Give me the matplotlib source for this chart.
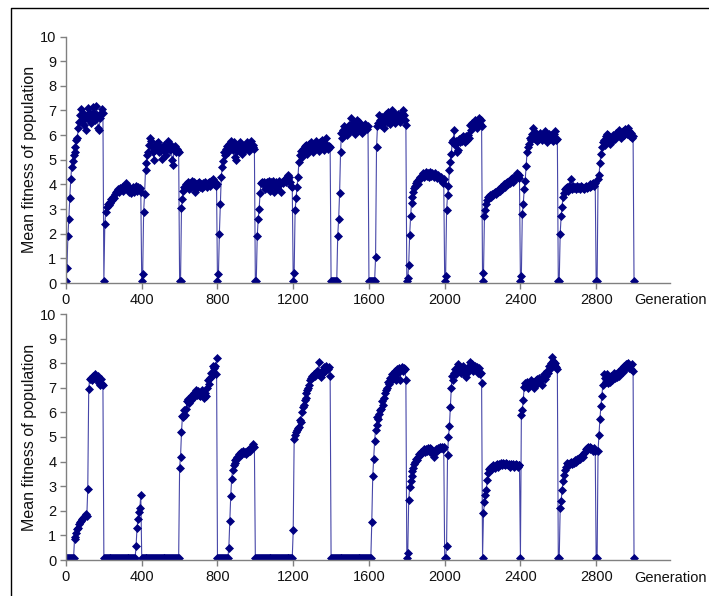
import matplotlib
matplotlib.use('Agg')
import matplotlib.pyplot as plt
from matplotlib.lines import Line2D
import numpy as np

plt.rcParams['font.family'] = ['Liberation Sans', 'DejaVu Sans']

# generation sampled every 5 steps, 0..3000
generation = np.arange(0, 3001, 5)

# mean fitness, upper run (one line per 200-generation epoch)
fitness_top = [
    0.1, 0.6, 1.9, 2.6, 3.45, 4.2, 4.7, 4.95, 5.2, 5.5, 5.3, 5.8, 5.9, 6.3, 6.55, 6.8, 7.05, 6.6, 6.9, 6.4, 6.7, 6.2, 6.8, 7.1, 6.6, 6.9, 6.5, 6.8, 7.15, 6.7, 6.9, 6.6, 7.2, 6.8, 6.3, 6.2, 6.7, 6.9, 7.05, 6.9,
    0.1, 2.4, 2.9, 3.1, 3.2, 3.15, 3.3, 3.25, 3.4, 3.35, 3.5, 3.45, 3.6, 3.7, 3.75, 3.8, 3.7, 3.85, 3.8, 3.9, 3.75, 3.95, 3.85, 4.05, 3.9, 3.8, 3.95, 3.7, 3.85, 3.65, 3.8, 3.9, 3.7, 3.85, 3.95, 3.75, 3.9, 3.8, 3.85, 3.7,
    0.1, 0.35, 2.9, 3.6, 4.6, 4.85, 5.2, 5.3, 5.6, 5.9, 5.75, 5.5, 5.3, 5.0, 5.4, 5.65, 5.5, 5.7, 5.3, 5.5, 5.4, 5.05, 5.45, 5.6, 5.35, 5.5, 5.2, 5.45, 5.75, 5.55, 5.4, 5.6, 5.0, 4.8, 5.4, 5.55, 5.3, 5.45, 5.35, 5.3,
    0.1, 0.1, 3.05, 3.4, 3.75, 3.9, 3.85, 4.0, 3.95, 4.1, 3.8, 4.05, 3.9, 4.15, 3.95, 4.1, 3.7, 4.0, 3.85, 4.05, 3.95, 4.1, 3.9, 4.0, 3.85, 4.05, 3.95, 4.1, 4.0, 3.9, 4.05, 4.1, 3.95, 4.15, 4.05, 4.2, 4.0, 4.1, 3.95, 4.0,
    0.1, 0.35, 2.0, 3.2, 4.3, 4.7, 4.95, 5.3, 5.2, 5.45, 5.55, 5.3, 5.65, 5.5, 5.75, 5.6, 5.4, 5.7, 5.55, 5.1, 5.0, 5.35, 5.6, 5.45, 5.7, 5.5, 5.25, 5.55, 5.4, 5.6, 5.45, 5.7, 5.5, 5.35, 5.6, 5.75, 5.55, 5.5, 5.6, 5.45,
    0.1, 0.1, 1.9, 2.6, 3.0, 3.65, 4.05, 4.1, 4.0, 4.1, 3.8, 4.05, 4.1, 3.9, 4.15, 4.05, 3.75, 4.1, 3.95, 4.15, 3.7, 4.0, 4.1, 3.85, 4.05, 4.15, 4.0, 3.7, 4.1, 4.05, 4.15, 4.2, 4.1, 4.3, 4.4, 4.2, 4.3, 4.1, 3.95, 3.9,
    0.1, 0.42, 2.95, 3.45, 3.9, 4.3, 4.9, 5.2, 5.35, 5.1, 5.45, 5.3, 5.55, 5.4, 5.6, 5.25, 5.5, 5.65, 5.4, 5.7, 5.55, 5.3, 5.6, 5.45, 5.75, 5.5, 5.6, 5.35, 5.7, 5.5, 5.8, 5.55, 5.4, 5.65, 5.5, 5.9, 5.6, 5.45, 5.55, 5.5,
    0.1, 0.1, 0.1, 0.1, 0.1, 0.1, 0.1, 1.9, 2.6, 3.65, 5.3, 6.1, 5.9, 6.2, 6.35, 6.1, 6.3, 6.0, 6.25, 6.4, 6.15, 6.7, 6.3, 6.5, 6.2, 6.05, 6.35, 6.6, 6.4, 6.55, 6.2, 6.45, 6.3, 6.1, 6.35, 6.2, 6.45, 6.3, 6.25, 6.35,
    0.1, 0.1, 0.1, 0.1, 0.1, 0.1, 0.1, 1.05, 5.5, 6.35, 6.5, 6.8, 6.6, 6.4, 6.75, 6.5, 6.3, 6.6, 6.85, 6.55, 6.95, 6.7, 6.45, 6.8, 7.0, 6.65, 6.9, 6.75, 6.5, 6.8, 6.6, 6.85, 6.7, 6.55, 6.75, 6.9, 7.0, 6.8, 6.6, 6.4,
    0.1, 0.2, 0.75, 1.95, 2.7, 3.25, 3.5, 3.7, 3.85, 3.95, 4.05, 4.15, 4.0, 4.2, 4.3, 4.25, 4.35, 4.45, 4.3, 4.4, 4.5, 4.35, 4.45, 4.3, 4.4, 4.5, 4.35, 4.45, 4.4, 4.3, 4.45, 4.35, 4.25, 4.4, 4.3, 4.2, 4.3, 4.15, 4.05, 4.2,
    0.1, 0.3, 2.95, 3.55, 3.95, 4.6, 4.9, 5.25, 5.7, 5.8, 6.2, 5.6, 5.75, 5.3, 5.4, 5.85, 5.7, 5.9, 5.75, 5.95, 5.8, 5.7, 5.95, 5.85, 5.8, 6.0, 5.9, 6.4, 6.2, 6.5, 6.35, 6.45, 6.6, 6.5, 6.3, 6.55, 6.7, 6.45, 6.6, 6.35,
    0.1, 0.4, 2.7, 2.95, 3.2, 3.35, 3.5, 3.45, 3.55, 3.5, 3.6, 3.55, 3.65, 3.7, 3.6, 3.75, 3.7, 3.8, 3.75, 3.85, 3.9, 3.8, 3.95, 4.0, 3.9, 4.05, 4.1, 4.0, 4.15, 4.05, 4.2, 4.25, 4.1, 4.3, 4.2, 4.35, 4.45, 4.3, 4.4, 4.25,
    0.1, 0.3, 2.8, 3.2, 3.8, 4.15, 4.75, 5.3, 5.5, 5.65, 5.9, 5.8, 6.05, 6.3, 6.0, 5.85, 6.1, 5.9, 5.75, 6.0, 5.85, 6.1, 5.95, 5.8, 6.0, 5.9, 6.15, 5.95, 5.7, 5.9, 6.05, 5.85, 6.0, 5.9, 5.75, 6.05, 6.15, 5.9, 5.8, 5.85,
    0.1, 0.1, 2.0, 2.7, 3.1, 3.5, 3.65, 3.8, 3.85, 3.9, 3.75, 3.95, 3.85, 4.2, 3.9, 3.8, 3.95, 3.85, 3.9, 3.8, 3.95, 3.85, 3.9, 3.8, 3.95, 3.9, 3.85, 3.8, 3.9, 3.95, 3.85, 3.9, 3.95, 3.9, 4.0, 3.95, 4.0, 4.05, 3.95, 4.05,
    0.1, 0.1, 4.2, 4.4, 4.85, 5.25, 5.5, 5.7, 5.8, 5.6, 5.95, 6.05, 5.85, 6.0, 5.8, 5.65, 5.9, 5.75, 6.0, 5.9, 5.85, 6.1, 5.95, 6.0, 6.2, 6.05, 5.9, 6.1, 6.15, 6.0, 6.25, 6.1, 6.2, 6.05, 6.3, 6.15, 5.95, 6.1, 5.9, 5.95,
    0.1,
]

# mean fitness, lower run
fitness_bottom = [
    0.1, 0.1, 0.1, 0.1, 0.1, 0.1, 0.1, 0.1, 0.1, 0.85, 0.95, 1.1, 1.25, 1.3, 1.45, 1.55, 1.6, 1.65, 1.7, 1.75, 1.8, 1.85, 1.8, 2.9, 6.95, 7.35, 7.4, 7.3, 7.45, 7.5, 7.4, 7.55, 7.45, 7.3, 7.5, 7.2, 7.1, 7.35, 7.15, 7.1,
    0.1, 0.1, 0.1, 0.1, 0.1, 0.1, 0.1, 0.1, 0.1, 0.1, 0.1, 0.1, 0.1, 0.1, 0.1, 0.1, 0.1, 0.1, 0.1, 0.1, 0.1, 0.1, 0.1, 0.1, 0.1, 0.1, 0.1, 0.1, 0.1, 0.1, 0.1, 0.1, 0.1, 0.1, 0.55, 1.3, 1.65, 1.95, 2.1, 2.65,
    0.1, 0.1, 0.1, 0.1, 0.1, 0.1, 0.1, 0.1, 0.1, 0.1, 0.1, 0.1, 0.1, 0.1, 0.1, 0.1, 0.1, 0.1, 0.1, 0.1, 0.1, 0.1, 0.1, 0.1, 0.1, 0.1, 0.1, 0.1, 0.1, 0.1, 0.1, 0.1, 0.1, 0.1, 0.1, 0.1, 0.1, 0.1, 0.1, 0.1,
    3.75, 4.2, 5.2, 5.85, 5.8, 6.1, 5.9, 6.15, 6.45, 6.55, 6.4, 6.6, 6.5, 6.7, 6.6, 6.8, 6.75, 6.9, 6.7, 6.85, 6.7, 6.8, 6.65, 6.75, 6.9, 6.7, 6.6, 6.8, 6.65, 7.0, 7.3, 7.15, 7.4, 7.6, 7.5, 7.9, 7.8, 7.9, 7.55, 8.2,
    0.1, 0.1, 0.1, 0.1, 0.1, 0.1, 0.1, 0.1, 0.1, 0.1, 0.1, 0.1, 0.5, 1.6, 2.6, 3.3, 3.65, 3.85, 3.95, 4.05, 4.1, 4.2, 4.15, 4.3, 4.25, 4.4, 4.3, 4.45, 4.35, 4.4, 4.3, 4.45, 4.4, 4.5, 4.45, 4.55, 4.6, 4.7, 4.65, 4.6,
    0.1, 0.1, 0.1, 0.1, 0.1, 0.1, 0.1, 0.1, 0.1, 0.1, 0.1, 0.1, 0.1, 0.1, 0.1, 0.1, 0.1, 0.1, 0.1, 0.1, 0.1, 0.1, 0.1, 0.1, 0.1, 0.1, 0.1, 0.1, 0.1, 0.1, 0.1, 0.1, 0.1, 0.1, 0.1, 0.1, 0.1, 0.1, 0.1, 0.1,
    1.2, 4.9, 5.1, 5.2, 5.3, 5.35, 5.4, 5.7, 5.6, 6.0, 6.2, 6.3, 6.5, 6.6, 6.8, 6.9, 7.0, 7.1, 7.3, 7.4, 7.5, 7.45, 7.55, 7.5, 7.6, 7.7, 7.55, 8.05, 7.6, 7.45, 7.7, 7.6, 7.75, 7.85, 7.7, 7.9, 7.8, 7.75, 7.85, 7.5,
    0.1, 0.1, 0.1, 0.1, 0.1, 0.1, 0.1, 0.1, 0.1, 0.1, 0.1, 0.1, 0.1, 0.1, 0.1, 0.1, 0.1, 0.1, 0.1, 0.1, 0.1, 0.1, 0.1, 0.1, 0.1, 0.1, 0.1, 0.1, 0.1, 0.1, 0.1, 0.1, 0.1, 0.1, 0.1, 0.1, 0.1, 0.1, 0.1, 0.1,
    0.1, 0.1, 0.1, 1.55, 3.4, 4.1, 4.85, 5.3, 5.5, 5.8, 5.75, 5.95, 6.1, 6.15, 6.45, 6.3, 6.6, 6.8, 6.9, 7.0, 7.25, 7.15, 7.4, 7.3, 7.55, 7.35, 7.6, 7.45, 7.7, 7.3, 7.75, 7.6, 7.8, 7.3, 7.75, 7.85, 7.7, 7.8, 7.75, 7.3,
    0.1, 0.3, 2.45, 2.95, 3.2, 3.4, 3.6, 3.75, 3.9, 4.0, 4.1, 4.05, 4.2, 4.3, 4.25, 4.4, 4.35, 4.45, 4.5, 4.4, 4.5, 4.45, 4.55, 4.5, 4.4, 4.55, 4.5, 4.45, 4.3, 4.2, 4.4, 4.5, 4.45, 4.55, 4.5, 4.6, 4.55, 4.6, 4.5, 4.6,
    0.1, 0.1, 0.55, 4.25, 5.0, 5.45, 6.2, 7.0, 7.5, 7.3, 7.6, 7.75, 7.55, 7.8, 7.95, 7.7, 7.85, 7.6, 7.75, 7.9, 7.7, 7.55, 7.45, 7.7, 7.6, 7.75, 7.9, 8.05, 7.85, 7.95, 7.7, 7.8, 7.9, 7.75, 7.85, 7.6, 7.8, 7.55, 7.6, 7.2,
    0.1, 1.9, 2.35, 2.65, 2.85, 3.25, 3.55, 3.7, 3.75, 3.8, 3.7, 3.85, 3.8, 3.75, 3.85, 3.9, 3.8, 3.9, 3.85, 3.95, 3.9, 3.85, 3.95, 3.9, 3.85, 3.95, 3.9, 3.85, 3.9, 3.8, 3.9, 3.85, 3.9, 3.8, 3.85, 3.9, 3.85, 3.8, 3.85, 3.85,
    0.1, 5.9, 6.1, 6.5, 7.05, 7.2, 7.1, 7.25, 7.0, 7.2, 7.15, 7.3, 7.1, 7.25, 7.0, 7.2, 7.3, 7.15, 7.35, 7.25, 7.4, 7.3, 7.35, 7.1, 7.4, 7.55, 7.35, 7.5, 7.7, 7.6, 7.9, 7.75, 8.0, 8.25, 8.1, 7.95, 8.0, 7.9, 7.85, 7.75,
    0.1, 0.1, 2.1, 2.4, 2.85, 3.2, 3.45, 3.65, 3.8, 3.95, 3.9, 3.85, 3.95, 4.0, 3.9, 3.95, 4.0, 3.95, 4.05, 4.0, 4.1, 4.05, 4.15, 4.1, 4.2, 4.25, 4.2, 4.35, 4.4, 4.5, 4.55, 4.6, 4.55, 4.5, 4.6, 4.55, 4.5, 4.45, 4.55, 4.45,
    0.1, 0.1, 4.45, 5.1, 5.75, 6.25, 6.65, 7.1, 7.55, 7.4, 7.25, 7.55, 7.3, 7.2, 7.4, 7.25, 7.5, 7.3, 7.45, 7.6, 7.4, 7.55, 7.45, 7.65, 7.5, 7.7, 7.6, 7.8, 7.65, 7.9, 7.75, 7.95, 7.85, 7.95, 8.0, 7.8, 7.9, 7.75, 7.95, 7.7,
    0.1,
]

assert len(fitness_top) == len(generation), len(fitness_top)
assert len(fitness_bottom) == len(generation), len(fitness_bottom)

x_ticks = [0, 400, 800, 1200, 1600, 2000, 2400, 2800]
y_ticks = list(range(0, 11))

W, H = 709, 596
fig = plt.figure(figsize=(W / 100, H / 100), dpi=100)

navy = '#000080'
grey = '#808080'

def panel(rect, values, label_y, gen_y):
    ax = fig.add_axes(rect)
    ax.plot(generation, values, color='#4646a8', lw=0.8,
            marker='D', ms=4.5, mfc=navy, mec=navy, mew=0.5)
    ax.set_xlim(0, 3190)
    ax.set_ylim(0, 10)
    ax.set_xticks(x_ticks)
    ax.set_yticks(y_ticks)
    for s in ('top', 'right'):
        ax.spines[s].set_visible(False)
    for s in ('left', 'bottom'):
        ax.spines[s].set_color(grey)
        ax.spines[s].set_linewidth(1)
    ax.tick_params(direction='out', length=4, width=1, color=grey,
                   labelsize=10.5, labelcolor='#111111', pad=3)
    ax.patch.set_alpha(0)
    fig.text(30 / W, 1 - label_y / H, 'Mean fitness of population',
             rotation=90, ha='center', va='center', fontsize=11.5, color='#111111')
    fig.text(634 / W, 1 - gen_y / H, 'Generation', ha='left', va='center',
             fontsize=10.5, color='#111111')
    return ax

panel([66 / W, 1 - 283 / H, 604 / W, 246.5 / H], fitness_top, 159, 300)
panel([66 / W, 1 - 560 / H, 604 / W, 246 / H], fitness_bottom, 437, 578)

# outer frame
fig.add_artist(Line2D([11 / W, 11 / W, 1.0], [0.0, 1 - 8 / H, 1 - 8 / H],
                      transform=fig.transFigure, color='black', lw=1))

fig.savefig('out.png', dpi=100)
